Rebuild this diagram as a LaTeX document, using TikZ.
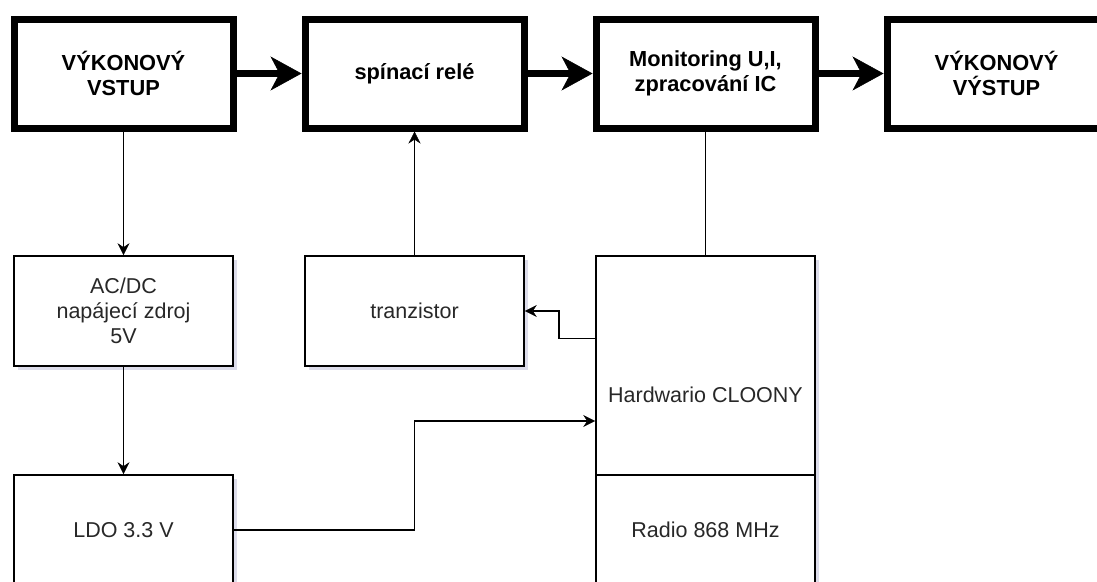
\documentclass[tikz,border=0pt]{standalone}
\usepackage{fontspec}
\setmainfont{Liberation Sans}
\usetikzlibrary{arrows.meta,positioning,shadows}
\definecolor{shadowblue}{RGB}{170,170,205}
\definecolor{textgray}{RGB}{40,40,40}

\begin{document}
\begin{tikzpicture}[font=\fontsize{21.5pt}{25pt}\selectfont, on grid,
      blockbold/.style={rectangle, draw=black, line width=7pt, fill=white, minimum width=219pt,
                        minimum height=109pt, align=center, font=\fontsize{21.8pt}{25pt}\selectfont\bfseries,
                        drop shadow={shadow xshift=4pt, shadow yshift=-4pt, opacity=0.4, fill=shadowblue}},
      block/.style={rectangle, draw=black, line width=1.6pt, fill=white, minimum width=219pt,
                    minimum height=110pt, align=center, text=textgray,
                    drop shadow={shadow xshift=4pt, shadow yshift=-4pt, opacity=0.4, fill=shadowblue}},
      powerline/.style={line width=6.5pt, -{Stealth[length=31pt, width=34pt, inset=9pt, line width=0.5pt]}},
      signal/.style={line width=1.6pt, -{Stealth[length=12pt, width=12pt, inset=4pt, line width=0.5pt]}},
      wire/.style={line width=1.6pt}]
    \useasboundingbox (0,0) rectangle (1097pt,-581pt);
    \clip (0,0) rectangle (1097pt,-581pt);
    \fill[white] (0,0) rectangle (1097pt,-581pt);

    \node[blockbold] (vstup) at (123.5pt,-73.5pt) {VÝKONOVÝ\\VSTUP};
    \node[blockbold, right=291pt of vstup] (rele) {spínací relé};
    \node[blockbold, right=291pt of rele] (monitor) {Monitoring U,I,\\zpracování IC};
    \node[blockbold, right=291pt of monitor] (vystup) {VÝKONOVÝ\\VÝSTUP};

    \node[block, below=237.5pt of vstup] (zdroj) {AC/DC\\napájecí zdroj\\5V};
    \node[block, below=237.5pt of rele] (tranz) {tranzistor};
    \node[block, below=219pt of zdroj] (ldo) {LDO 3.3 V};
    \node[block, minimum height=219pt, below=292pt of monitor] (cloony) {};
    \node[text=textgray, below=17.5pt of cloony.center] (cloonytxt) {Hardwario CLOONY};
    \node[block, below=164.5pt of cloony] (radio) {Radio 868 MHz};

    \draw[powerline] (vstup) -- (rele);
    \draw[powerline] (rele) -- (monitor);
    \draw[powerline] (monitor) -- (vystup);

    \draw[signal] (vstup) -- (zdroj);
    \draw[signal] (zdroj) -- (ldo);
    \draw[signal] (tranz) -- (rele);
    \draw[wire] (monitor) -- (cloony);
    \draw[signal] ([yshift=27pt]cloony.west) -- ++(-36pt,0) |- (tranz.east);
    \draw[signal] (ldo.east) -- (ldo.east -| tranz.south) |- ([yshift=-55.5pt]cloony.west);
  \end{tikzpicture}
\end{document}
